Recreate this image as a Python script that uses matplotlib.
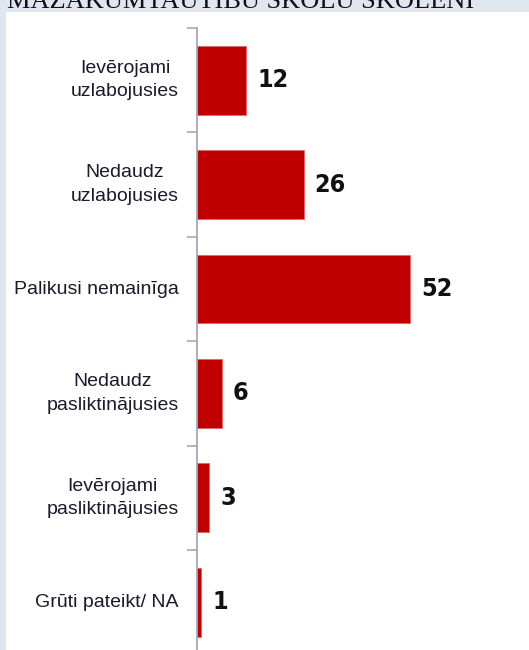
import numpy as np
import matplotlib.pyplot as plt
from matplotlib.patches import Rectangle

# dati
categories = [
    "Ievērojami\nuzlabojusies",
    "Nedaudz\nuzlabojusies",
    "Palikusi nemainīga",
    "Nedaudz\npasliktinājusies",
    "Ievērojami\npasliktinājusies",
    "Grūti pateikt/ NA",
]
values = [12, 26, 52, 6, 3, 1]
title = "MAZĀKUMTAUTĪBU SKOLU SKOLĒNI"

W, H = 529, 650
fig = plt.figure(figsize=(W / 100, H / 100), dpi=100)
fig.patch.set_facecolor("#dfe6f0")

# balts laukums zem virsraksta
fig.patches.append(Rectangle((6 / W, 0), 1 - 6 / W, (H - 12) / H,
                             transform=fig.transFigure, facecolor="white",
                             edgecolor="none", zorder=-10))

fig.text(7 / W, 1 - 8 / H, title, family="Liberation Serif", fontsize=19,
         color="#111111", ha="left", va="baseline")

ax = fig.add_axes([197 / W, 0, 1 - 197 / W, (H - 28) / H])
ax.set_facecolor("none")

y = np.arange(len(categories))
ax.barh(y, values, height=0.66, color="#c00000", edgecolor="#d86a6a",
        linewidth=0.6)

for yi, v in zip(y, values):
    ax.annotate(str(v), (v, yi), xytext=(8, 0), textcoords="offset points",
                ha="left", va="center", fontsize=18, fontweight="bold",
                family="DejaVu Sans", fontstretch="condensed",
                color="#111111")

ax.set_xlim(0, 81)
ax.set_ylim(-0.5 + 622 / 104.4, -0.5)

ax.set_yticks(y)
ax.set_yticklabels(categories, fontsize=14, family="Liberation Sans",
                   color="#1a1a2a", multialignment="center", linespacing=1.5,
                   va="center")
ax.tick_params(axis="y", which="major", length=0, pad=13)
ax.set_yticks(np.arange(len(categories)) - 0.5, minor=True)
ax.tick_params(axis="y", which="minor", length=7, width=1.1,
               color="#a0a0b0", direction="out")
ax.set_xticks([])

for s in ["top", "right", "bottom"]:
    ax.spines[s].set_visible(False)
ax.spines["left"].set_color("#a0a0b0")
ax.spines["left"].set_linewidth(1.2)

fig.savefig("out.png", dpi=100, facecolor=fig.get_facecolor())
